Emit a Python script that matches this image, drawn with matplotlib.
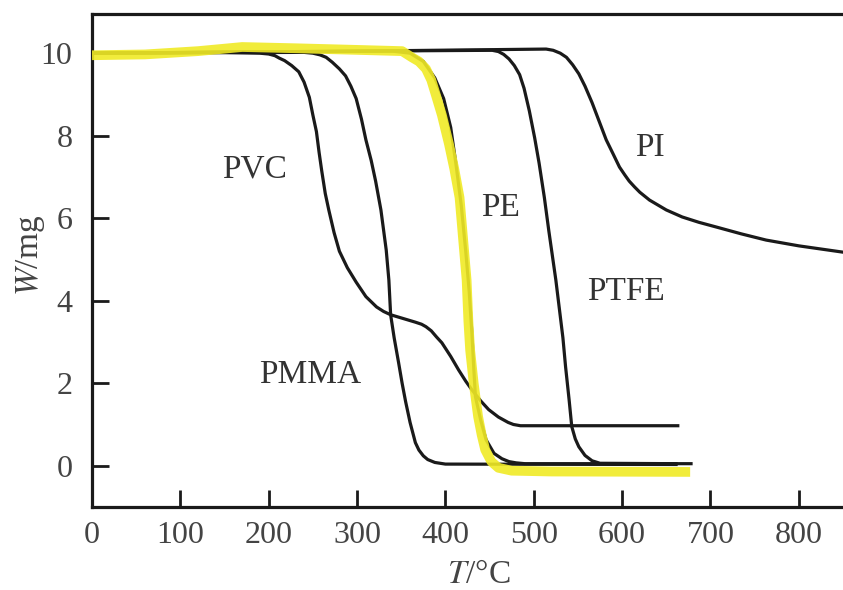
import matplotlib
matplotlib.use("Agg")
from matplotlib import pyplot as plt

# Temperature (deg C) and mass (mg)
pvc_t = [0, 150, 190, 200, 207, 212, 218, 226, 234, 240, 246, 250, 254, 257, 260, 264, 268, 274, 280, 289, 299,
         310, 322, 330, 338, 352, 366, 373, 378, 384, 390, 396, 406, 415, 423, 430, 440, 449, 460, 471, 477, 485,
         520, 663]
pvc_w = [10.0, 10.02, 10.0, 9.98, 9.94, 9.88, 9.82, 9.7, 9.55, 9.3, 8.93, 8.5, 8.1, 7.6, 7.15, 6.6, 6.2, 5.65,
         5.2, 4.8, 4.45, 4.1, 3.85, 3.74, 3.66, 3.57, 3.48, 3.43, 3.37, 3.27, 3.12, 2.98, 2.65, 2.32, 2.05, 1.84,
         1.57, 1.36, 1.18, 1.05, 1.0, 0.97, 0.97, 0.97]

pmma_t = [0, 240, 250, 258, 265, 272, 280, 287, 293, 299, 305, 310, 316, 321, 327, 333, 336, 338, 342, 347,
          351, 355, 360, 366, 370, 375, 380, 388, 400, 661]
pmma_w = [10.0, 10.02, 10.0, 9.96, 9.9, 9.78, 9.62, 9.45, 9.2, 8.9, 8.4, 7.9, 7.4, 6.9, 6.2, 5.23, 4.5, 3.66,
          3.1, 2.5, 2.0, 1.55, 1.05, 0.56, 0.38, 0.24, 0.15, 0.08, 0.04, 0.03]

pe_t = [0, 340, 360, 375, 388, 398, 406, 412, 418, 423, 427, 430, 432, 434, 440, 446, 455, 464, 472, 480, 490,
        678]
pe_w = [10.0, 10.05, 10.0, 9.8, 9.4, 8.9, 8.2, 7.3, 6.3, 5.2, 4.2, 3.2, 2.4, 1.67, 1.1, 0.63, 0.3, 0.17, 0.1,
        0.07, 0.05, 0.05]

ptfe_t = [0, 300, 453, 460, 466, 472, 478, 484, 489, 495, 501, 506, 512, 517, 521, 525, 529, 533, 536,
          540, 543, 547, 551, 558, 566, 575, 661]
ptfe_w = [10.0, 10.05, 10.07, 10.04, 9.97, 9.86, 9.7, 9.48, 9.15, 8.6, 7.95, 7.34, 6.5, 5.7, 5.1, 4.5, 3.8, 3.1,
          2.4, 1.6, 0.95, 0.65, 0.46, 0.25, 0.12, 0.06, 0.05]

pi_t = [0, 300, 514, 522, 530, 537, 544, 551, 558, 566, 574, 582, 590, 597, 603, 608, 614, 620, 631, 650,
        668, 687, 706, 735, 763, 800, 849]
pi_w = [10.0, 10.05, 10.1, 10.07, 10.0, 9.9, 9.72, 9.5, 9.2, 8.8, 8.35, 7.9, 7.55, 7.24, 7.05, 6.9, 6.76,
        6.63, 6.44, 6.2, 6.03, 5.9, 5.79, 5.62, 5.47, 5.33, 5.18]

# Yellow highlighter stroke drawn over the PE curve
mark_t = [0, 60, 120, 170, 230, 300, 351, 362, 370, 378, 384, 389, 396, 404, 410, 416, 420, 424, 426, 428,
          432, 437, 441, 445, 452, 460, 475, 520, 677]
mark_w = [9.95, 9.97, 10.05, 10.15, 10.12, 10.08, 10.05, 9.9, 9.8, 9.62, 9.35, 9.0, 8.5, 7.8, 7.2, 6.5, 5.5,
          4.5, 3.5, 2.8, 2.0, 1.19, 0.75, 0.39, 0.1, -0.05, -0.12, -0.14, -0.15]

# Curve labels and where they sit (T, W)
labels = ["PVC", "PE", "PTFE", "PI", "PMMA"]
label_t = [184, 462, 604, 631, 247]
label_w = [7.19, 6.25, 4.21, 7.72, 2.2]

x_ticks = [0, 100, 200, 300, 400, 500, 600, 700, 800]
y_ticks = [0, 2, 4, 6, 8, 10]

plt.rcParams['font.family'] = ['Liberation Serif', 'DejaVu Serif']
plt.rcParams['mathtext.fontset'] = 'stix'

fig = plt.figure(figsize=(8.43, 5.9), dpi=100)
ax = fig.add_axes([92 / 843, 83 / 590, 751 / 843, 493 / 590])

line_kw = dict(color='#1a1a1a', lw=2.3, solid_joinstyle='round')
for t, w in [(pvc_t, pvc_w), (pmma_t, pmma_w), (pe_t, pe_w), (ptfe_t, ptfe_w), (pi_t, pi_w)]:
    ax.plot(t, w, **line_kw)
ax.plot(mark_t, mark_w, color='#f0ea26', lw=7, alpha=0.9, solid_joinstyle='round',
        solid_capstyle='butt', zorder=3)

for name, t, w in zip(labels, label_t, label_w):
    ax.text(t, w, name, fontsize=24, color='#333333', ha='center', va='center')

ax.set_xlim(0, 850)
ax.set_ylim(-1, 10.95)
ax.set_xticks(x_ticks)
ax.set_yticks(y_ticks)
ax.tick_params(direction='in', length=12, width=2, labelsize=23, colors='#1a1a1a', labelcolor='#444444')
ax.tick_params(axis='x', pad=10)
ax.tick_params(axis='y', pad=14)
for side in ['left', 'bottom', 'top']:
    ax.spines[side].set_linewidth(2.3)
    ax.spines[side].set_color('#1a1a1a')
ax.spines['right'].set_visible(False)

ax.set_xlabel(r'$T$/°C', fontsize=24, color='#444444', va='center')
ax.xaxis.set_label_coords(0.515, -0.138)
ax.set_ylabel(r'$W$/mg', fontsize=24, color='#444444', va='center')
ax.yaxis.set_label_coords(-0.082, 0.511)

fig.savefig('out.png', dpi=100)
